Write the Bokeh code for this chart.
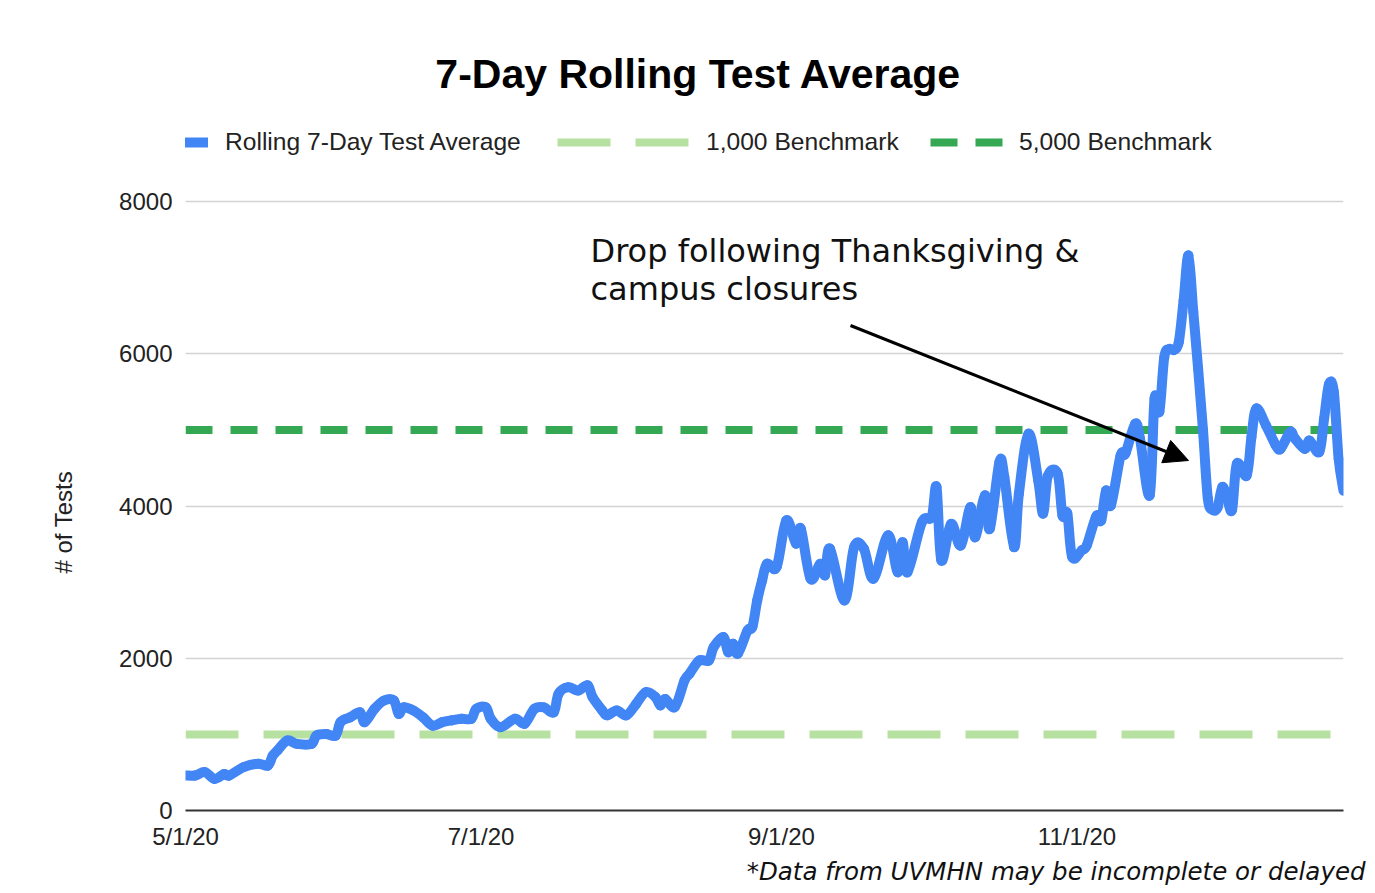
import pandas as pd
from bokeh.plotting import figure
from bokeh.models import (Legend, LegendItem, Label, Arrow, NormalHead, Title,
                          FixedTicker, DatetimeTickFormatter, Range1d, ColumnDataSource)
from bokeh.embed import file_html
from bokeh.resources import INLINE

# ---------------- data ----------------
dates = [
    "2020-05-01", "2020-05-03", "2020-05-05", "2020-05-07", "2020-05-09", "2020-05-10",
    "2020-05-13", "2020-05-16", "2020-05-18", "2020-05-19", "2020-05-20", "2020-05-22",
    "2020-05-24", "2020-05-27", "2020-05-28", "2020-05-30", "2020-06-01", "2020-06-02",
    "2020-06-04", "2020-06-06", "2020-06-07", "2020-06-09", "2020-06-11", "2020-06-13",
    "2020-06-14", "2020-06-15", "2020-06-17", "2020-06-19", "2020-06-21", "2020-06-23",
    "2020-06-25", "2020-06-27", "2020-06-29", "2020-06-30", "2020-07-02", "2020-07-03",
    "2020-07-05", "2020-07-08", "2020-07-10", "2020-07-12", "2020-07-14", "2020-07-16",
    "2020-07-17", "2020-07-19", "2020-07-21", "2020-07-23", "2020-07-24", "2020-07-26",
    "2020-07-27", "2020-07-29", "2020-07-31", "2020-08-02", "2020-08-04", "2020-08-06",
    "2020-08-07", "2020-08-08", "2020-08-10", "2020-08-12", "2020-08-13", "2020-08-15",
    "2020-08-17", "2020-08-18", "2020-08-20", "2020-08-21", "2020-08-22", "2020-08-23",
    "2020-08-25", "2020-08-26", "2020-08-27", "2020-08-28", "2020-08-29", "2020-08-31",
    "2020-09-02", "2020-09-04", "2020-09-05", "2020-09-07", "2020-09-09", "2020-09-10",
    "2020-09-11", "2020-09-14", "2020-09-16", "2020-09-18", "2020-09-20", "2020-09-23",
    "2020-09-25", "2020-09-26", "2020-09-27", "2020-09-30", "2020-10-02", "2020-10-03",
    "2020-10-04", "2020-10-06", "2020-10-08", "2020-10-10", "2020-10-11", "2020-10-13",
    "2020-10-14", "2020-10-16", "2020-10-17", "2020-10-19", "2020-10-20", "2020-10-22",
    "2020-10-24", "2020-10-25", "2020-10-26", "2020-10-28", "2020-10-29", "2020-10-30",
    "2020-10-31", "2020-11-02", "2020-11-03", "2020-11-05", "2020-11-06", "2020-11-07",
    "2020-11-08", "2020-11-10", "2020-11-11", "2020-11-13", "2020-11-14", "2020-11-16",
    "2020-11-17", "2020-11-18", "2020-11-19", "2020-11-20", "2020-11-21", "2020-11-22",
    "2020-11-23", "2020-11-24", "2020-11-25", "2020-11-26", "2020-11-27", "2020-11-28",
    "2020-11-29", "2020-11-30", "2020-12-01", "2020-12-02", "2020-12-03", "2020-12-04",
    "2020-12-06", "2020-12-07", "2020-12-08", "2020-12-10", "2020-12-12", "2020-12-13",
    "2020-12-15", "2020-12-16", "2020-12-18", "2020-12-19", "2020-12-21", "2020-12-22",
    "2020-12-23", "2020-12-24", "2020-12-25", "2020-12-26",
]
rolling_avg = [
    460, 460, 505, 415, 480, 460,
    570, 615, 590, 720, 790, 920,
    875, 875, 985, 1005, 985, 1160,
    1225, 1290, 1160, 1335, 1445, 1445,
    1270, 1355, 1315, 1225, 1115, 1160,
    1185, 1205, 1205, 1335, 1355, 1205,
    1095, 1205, 1140, 1335, 1355, 1290,
    1535, 1620, 1575, 1645, 1490, 1315,
    1250, 1315, 1250, 1400, 1555, 1490,
    1380, 1465, 1360, 1710, 1795, 1970,
    1970, 2145, 2280, 2080, 2190, 2060,
    2365, 2410, 2760, 3020, 3240, 3200,
    3810, 3505, 3700, 3045, 3240, 3090,
    3440, 2760, 3460, 3440, 3045, 3615,
    3130, 3525, 3130, 3790, 3855, 4250,
    3285, 3765, 3480, 3985, 3590, 4140,
    3700, 4580, 4380, 3460, 4160, 4950,
    4335, 3900, 4400, 4425, 3875, 3900,
    3330, 3420, 3480, 3870, 3810, 4205,
    4010, 4665, 4690, 5080, 4885, 4140,
    5410, 5240, 5950, 6060, 6050, 6150,
    6700, 7290, 6550, 5800, 5000, 4100,
    3950, 3980, 4250, 4100, 3950, 4555,
    4400, 4905, 5280, 5060, 4800, 4750,
    4970, 4885, 4750, 4860, 4710, 5150,
    5600, 5500, 4620, 4200,
]
bench_dates = ["2020-05-01", "2020-12-26"]
bench_1000 = [1000, 1000]
bench_5000 = [5000, 5000]
x_tick_dates = ["2020-05-01", "2020-07-01", "2020-09-01", "2020-11-01"]
y_ticks = [0, 2000, 4000, 6000, 8000]
series_labels = ["Rolling 7-Day Test Average", "1,000 Benchmark", "5,000 Benchmark"]
title_text = "7-Day Rolling Test Average"
y_title = "# of Tests"
note_lines = ["Drop following Thanksgiving &", "campus closures"]
footnote = "*Data from UVMHN may be incomplete or delayed"

# ---------------- layout constants (pixels) ----------------
W, H = 1370, 890
FRAME_L, FRAME_R = 185, 1343      # page x of plot frame
FRAME_T, FRAME_B = 20, 810        # page y of plot frame (top extended for title/legend)
GRID_TOP = 201                    # page y of the top gridline (8000)
y_top = y_ticks[-1] * (FRAME_B - FRAME_T) / (FRAME_B - GRID_TOP)

x = pd.to_datetime(dates)
bx = pd.to_datetime(bench_dates)

p = figure(width=W, height=H, x_axis_type="datetime",
           output_backend="svg", toolbar_location=None,
           x_range=Range1d(bx[0], bx[-1]), y_range=Range1d(0, y_top),
           min_border_left=FRAME_L, min_border_right=W - FRAME_R,
           min_border_top=FRAME_T, min_border_bottom=H - FRAME_B)
p.outline_line_color = None
p.background_fill_color = "white"
p.border_fill_color = "white"

BLUE = "#4285f4"
LGREEN = "#b7e1a1"
DGREEN = "#34a853"
TXT = "#222222"
AXFONT = "Liberation Sans"

r_light = p.line(bx, bench_1000, line_color=LGREEN, line_width=8, line_dash="53 25")
r_dark = p.line(bx, bench_5000, line_color=DGREEN, line_width=8, line_dash="27 18")

# smoothed series (the source chart uses a smoothed line): each segment between two
# readings is drawn as a cubic Bezier with Catmull-Rom tangents
xs = [t.value // 10**6 for t in x]
ys = list(rolling_avg)
n = len(xs)
seg = dict(x0=[], y0=[], x1=[], y1=[], cx0=[], cy0=[], cx1=[], cy1=[])
for i in range(n - 1):
    pm = max(i - 1, 0)
    pp = min(i + 2, n - 1)
    seg["x0"].append(xs[i]); seg["y0"].append(ys[i])
    seg["x1"].append(xs[i + 1]); seg["y1"].append(ys[i + 1])
    seg["cx0"].append(xs[i] + (xs[i + 1] - xs[pm]) / 6)
    seg["cy0"].append(ys[i] + (ys[i + 1] - ys[pm]) / 6)
    seg["cx1"].append(xs[i + 1] - (xs[pp] - xs[i]) / 6)
    seg["cy1"].append(ys[i + 1] - (ys[pp] - ys[i]) / 6)
r_blue = p.bezier(x0="x0", y0="y0", x1="x1", y1="y1", cx0="cx0", cy0="cy0",
                  cx1="cx1", cy1="cy1", source=ColumnDataSource(seg),
                  line_color=BLUE, line_width=10, line_cap="round")

# axes
p.xgrid.grid_line_color = None
p.ygrid.grid_line_color = "#d3d3d3"
p.ygrid.grid_line_width = 1.5

p.yaxis.ticker = FixedTicker(ticks=y_ticks)
p.yaxis.axis_line_color = None
p.yaxis.major_tick_line_color = None
p.yaxis.minor_tick_line_color = None
p.yaxis.major_tick_out = 0
p.yaxis.major_tick_in = 0
p.yaxis.minor_tick_out = 0
p.yaxis.major_label_standoff = 13
p.yaxis.major_label_text_font = AXFONT
p.yaxis.major_label_text_font_size = "24px"
p.yaxis.major_label_text_color = TXT

tick_ms = [pd.Timestamp(d).value // 10**6 for d in x_tick_dates]
p.xaxis.ticker = FixedTicker(ticks=tick_ms)
p.xaxis.formatter = DatetimeTickFormatter(days="%-m/%-d/%y", months="%-m/%-d/%y")
p.xaxis.axis_line_color = "#333333"
p.xaxis.axis_line_width = 2
p.xaxis.major_tick_line_color = None
p.xaxis.minor_tick_line_color = None
p.xaxis.major_tick_out = 0
p.xaxis.major_tick_in = 0
p.xaxis.minor_tick_out = 0
p.xaxis.major_label_standoff = 12
p.xaxis.major_label_text_font = AXFONT
p.xaxis.major_label_text_font_size = "24px"
p.xaxis.major_label_text_color = TXT

# y axis title, in the left panel
p.add_layout(Title(text=y_title, align="left", vertical_align="top",
                   standoff=76, offset=237,
                   text_font=AXFONT, text_font_style="normal",
                   text_font_size="24px", text_color=TXT), "left")

# footnote, in the bottom panel
p.add_layout(Title(text=footnote, align="right", offset=-22, standoff=4,
                   text_font="DejaVu Sans", text_font_style="italic",
                   text_font_size="24.5px", text_color="#111111"), "below")

# legends (one per item so that each swatch can have its own length)
def make_legend(label, rend, vx, gw, standoff):
    return Legend(items=[LegendItem(label=label, renderers=[rend])],
                  location=(vx, FRAME_B - 156), orientation="horizontal",
                  glyph_width=gw, glyph_height=28, label_height=28,
                  label_standoff=standoff, padding=0, margin=0, spacing=0,
                  border_line_alpha=0, background_fill_alpha=0,
                  label_text_font=AXFONT, label_text_font_size="24.6px",
                  label_text_color=TXT)

p.add_layout(make_legend(series_labels[0], r_blue, 0, 23, 17))
p.add_layout(make_legend(series_labels[1], r_light, 372, 133, 16))
p.add_layout(make_legend(series_labels[2], r_dark, 745, 73, 16))

# title
p.add_layout(Label(x=698 - FRAME_L, y=FRAME_B - 73, x_units="screen", y_units="screen",
                   text=title_text, text_align="center", text_baseline="middle",
                   text_font=AXFONT, text_font_style="bold",
                   text_font_size="41px", text_color="#000000"))

# annotation text
for i, line in enumerate(note_lines):
    p.add_layout(Label(x=590 - FRAME_L, y=FRAME_B - 250 - 38 * i,
                       x_units="screen", y_units="screen",
                       text=line, text_align="left", text_baseline="middle",
                       text_font="DejaVu Sans", text_font_size="32px",
                       text_color="#111111"))

# arrow
p.add_layout(Arrow(x_start=850 - FRAME_L, y_start=FRAME_B - 325,
                   x_end=1188 - FRAME_L, y_end=FRAME_B - 460,
                   start_units="screen", end_units="screen",
                   line_color="black", line_width=3,
                   end=NormalHead(size=24, fill_color="black", line_color="black")))

open("out.html", "w").write(file_html(p, INLINE))
